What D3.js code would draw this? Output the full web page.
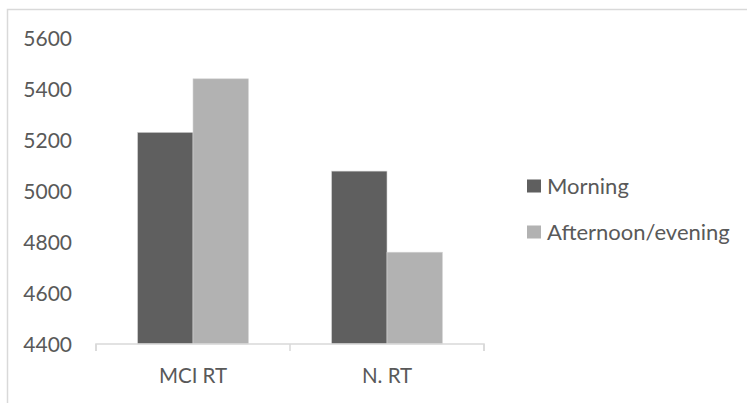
<!DOCTYPE html>
<html>
<head>
<meta charset="utf-8">
<script src="https://cdn.jsdelivr.net/npm/d3@7"></script>
<style>
  html, body { margin: 0; padding: 0; background: #fff; }
  svg text { font-family: Lato, "Open Sans", sans-serif; fill: #595959; }
</style>
</head>
<body>
<svg id="chart" width="747" height="403"></svg>
<script>
// Reaction times by group and time of day
const categories = ["MCI RT", "N. RT"];
const seriesNames = ["Morning", "Afternoon/evening"];
const morning = [5230, 5078];
const afternoon = [5440, 4760];
const yTicks = [4400, 4600, 4800, 5000, 5200, 5400, 5600];
const colors = ["#5f5f5f", "#b2b2b2"];

const svg = d3.select("#chart");

// outer chart frame
svg.append("rect")
  .attr("x", 7.5).attr("y", 9.5)
  .attr("width", 760).attr("height", 420)
  .attr("fill", "none").attr("stroke", "#d9d9d9").attr("stroke-width", 1.5);

const plot = { left: 96, right: 484, top: 38, bottom: 344 };

const x0 = d3.scaleBand().domain(categories).range([plot.left, plot.right]).paddingInner(0).paddingOuter(0);
const x1 = d3.scaleBand().domain(seriesNames).range([0, x0.bandwidth()]).paddingOuter(0.75).paddingInner(0);
const y = d3.scaleLinear().domain([4400, 5600]).range([plot.bottom, plot.top]);

// y tick labels (no axis line, no gridlines)
const yAxis = d3.axisLeft(y).tickValues(yTicks).tickSize(0).tickPadding(0).tickFormat(d3.format("d"));
const gy = svg.append("g").attr("transform", `translate(72,0)`).call(yAxis);
gy.select(".domain").remove();
gy.selectAll("text").attr("font-size", 21).attr("dy", "0.36em");

// bars
const rows = categories.map((c, i) => ({ cat: c, vals: [morning[i], afternoon[i]] }));
const groups = svg.append("g").selectAll("g").data(rows).join("g")
  .attr("transform", d => `translate(${x0(d.cat)},0)`);
groups.selectAll("rect")
  .data(d => d.vals.map((v, j) => ({ name: seriesNames[j], v, j })))
  .join("rect")
  .attr("x", d => x1(d.name))
  .attr("width", x1.bandwidth())
  .attr("y", d => y(d.v))
  .attr("height", d => y(4400) - y(d.v))
  .attr("fill", d => colors[d.j])
  .attr("stroke", "#d4d4d4").attr("stroke-width", 0.6);

// category axis
const xAxis = d3.axisBottom(x0).tickSize(0).tickPadding(0);
const gx = svg.append("g").attr("transform", `translate(0,${plot.bottom})`).call(xAxis);
gx.select(".domain").attr("stroke", "#d9d9d9").attr("stroke-width", 1.5)
  .attr("d", `M${plot.left},7V0H${plot.right}V7`);
gx.selectAll(".tick line").remove();
gx.selectAll("text").attr("font-size", 20.5).attr("dy", null).attr("y", 39);
// boundary ticks between categories
const bounds = [plot.left, x0(categories[1]), plot.right];
gx.selectAll(".bound").data(bounds).join("line")
  .attr("class", "bound")
  .attr("x1", d => d).attr("x2", d => d).attr("y1", 0).attr("y2", 7)
  .attr("stroke", "#d9d9d9").attr("stroke-width", 1.5);

// legend
const legend = svg.append("g").attr("transform", "translate(527,0)");
const legRows = [186, 232];
seriesNames.forEach((n, i) => {
  legend.append("rect").attr("x", 0).attr("y", legRows[i] - 6.5).attr("width", 14).attr("height", 13).attr("fill", colors[i]);
  legend.append("text").attr("x", 20).attr("y", legRows[i]).attr("dy", "0.36em").attr("font-size", 22).text(n);
});
</script>
</body>
</html>
